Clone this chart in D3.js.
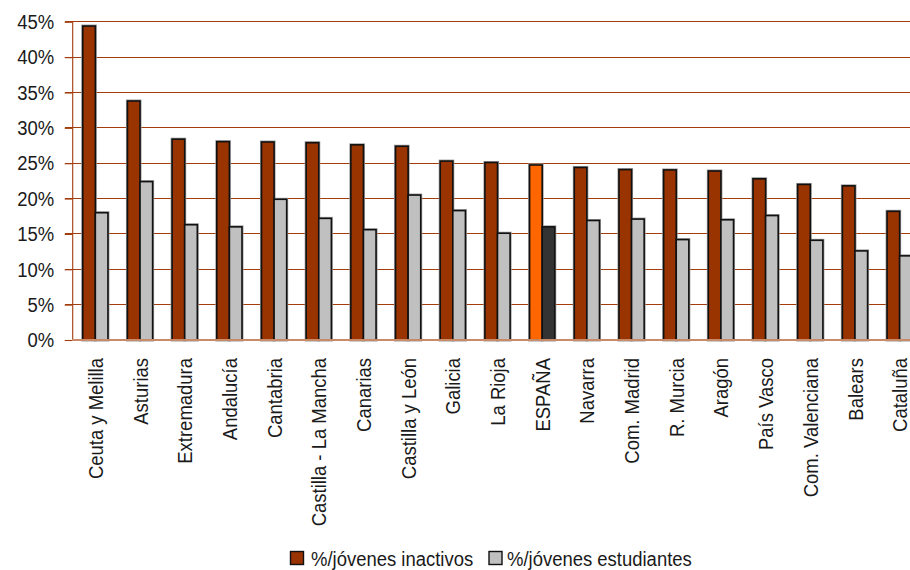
<!DOCTYPE html>
<html><head><meta charset="utf-8">
<script src="https://cdn.jsdelivr.net/npm/d3@7"></script>
<style>
html,body{margin:0;padding:0;background:#fff;overflow:hidden}
svg{display:block}
text{font-family:"Liberation Sans",Arial,sans-serif;fill:#1a1a1a}
</style></head>
<body><svg id="c" width="910" height="570"></svg>
<script>
const categories = ["Ceuta y Melilla","Asturias","Extremadura","Andalucía","Cantabria","Castilla - La Mancha","Canarias","Castilla y León","Galicia","La Rioja","ESPAÑA","Navarra","Com. Madrid","R. Murcia","Aragón","País Vasco","Com. Valenciana","Balears","Cataluña"];
const inactivos = [44.4,33.8,28.4,28.05,28.0,27.9,27.6,27.4,25.3,25.1,24.75,24.4,24.1,24.05,23.9,22.8,22.0,21.8,18.2];
const estudiantes = [18.0,22.4,16.3,16.0,19.9,17.2,15.6,20.5,18.3,15.1,16.0,16.9,17.1,14.2,17.0,17.6,14.1,12.6,11.9];
const seriesNames = ["%/jóvenes inactivos","%/jóvenes estudiantes"];
const yTicks = [0,5,10,15,20,25,30,35,40,45];

const colors = {inact:"#993300", est:"#C0C0C0", inactEsp:"#FF6600", estEsp:"#333333"};
const FS = "21px", SX = 0.88;
const svg = d3.select("#c");
const W = 910;
const x0 = d3.scaleBand().domain(categories).range([73, 922]).padding(0);
const bw = x0.bandwidth();
const gw = 25.2;
const x1 = d3.scaleBand().domain(seriesNames).range([(bw-gw)/2,(bw+gw)/2]).padding(0);
const y = d3.scaleLinear().domain([0,45]).range([340, 21.8]);

// gridlines
svg.append("g").selectAll("line").data(yTicks.filter(d=>d>0)).join("line")
  .attr("x1",65).attr("x2",W).attr("y1",d=>y(d)).attr("y2",d=>y(d))
  .attr("stroke","#a33d0c").attr("stroke-width",1.1).attr("shape-rendering","crispEdges");

// y axis
const yAxis = d3.axisLeft(y).tickValues(yTicks).tickFormat(d=>d+"%").tickSize(8).tickPadding(11);
const ga = svg.append("g").attr("transform","translate(72.7,0)").call(yAxis);
ga.select(".domain").attr("stroke","#a33d0c").attr("stroke-width",1.1).attr("d","M0,"+y(45)+"V340");
ga.selectAll(".tick line").attr("stroke","#a33d0c").attr("stroke-width",1.1);
ga.selectAll(".tick text").style("font-size",FS).attr("fill","#1a1a1a")
  .attr("x",0).attr("transform",`translate(-18.5,0) scale(${SX},1)`);

// bars
const rows = categories.map((c,i)=>({c, vals:[
  {s:seriesNames[0], v:inactivos[i], fill: c==="ESPAÑA"?colors.inactEsp:colors.inact},
  {s:seriesNames[1], v:estudiantes[i], fill: c==="ESPAÑA"?colors.estEsp:colors.est}
]}));
const gg = svg.append("g").selectAll("g").data(rows).join("g")
  .attr("transform",d=>`translate(${x0(d.c)},0)`);
gg.selectAll("rect.h").data(d=>d.vals).join("rect").attr("class","h")
  .attr("x",d=>x1(d.s)).attr("width",x1.bandwidth())
  .attr("y",d=>y(d.v)).attr("height",d=>340-y(d.v))
  .attr("fill","none").attr("stroke","#9a9a9a").attr("stroke-width",3);
gg.selectAll("rect.b").data(d=>d.vals).join("rect").attr("class","b")
  .attr("x",d=>x1(d.s)).attr("width",x1.bandwidth())
  .attr("y",d=>y(d.v)).attr("height",d=>340-y(d.v))
  .attr("fill",d=>d.fill).attr("stroke","#111").attr("stroke-width",1.6);

// baseline
svg.append("line").attr("x1",72).attr("x2",W).attr("y1",340).attr("y2",340)
  .attr("stroke","#c98a68").attr("stroke-width",2.2);

// x labels
const xAxis = d3.axisBottom(x0).tickSize(0).tickPadding(0);
const gx = svg.append("g").attr("transform","translate(0,358)").call(xAxis);
gx.select(".domain").remove();
gx.selectAll(".tick text").style("font-size",FS).attr("fill","#1a1a1a")
  .attr("transform",`rotate(-90) scale(${SX},1)`).attr("text-anchor","end").attr("x",0).attr("y",0).attr("dy","0.36em");

// legend
const leg = svg.append("g").attr("transform","translate(0,558)");
const legItems = [{t:seriesNames[0], c:colors.inact, x:290, tx:311},{t:seriesNames[1], c:colors.est, x:488.5, tx:507}];
leg.selectAll("rect").data(legItems).join("rect")
  .attr("x",d=>d.x+0.5).attr("y",-6.5).attr("width",13).attr("height",13)
  .attr("fill",d=>d.c).attr("stroke","#111").attr("stroke-width",1.4);
leg.selectAll("text").data(legItems).join("text")
  .attr("transform",d=>`translate(${d.tx},0) scale(${SX},1)`)
  .attr("x",0).attr("y",0).attr("dy","0.36em").style("font-size",FS).text(d=>d.t);
</script></body></html>
